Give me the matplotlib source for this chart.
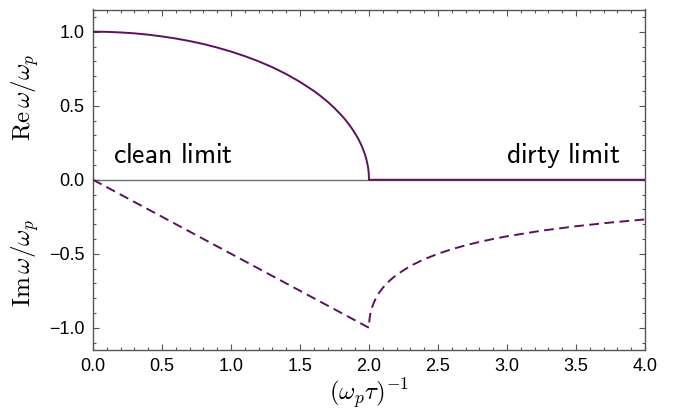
import numpy as np
import matplotlib.pyplot as plt
from matplotlib.ticker import MultipleLocator
import matplotlib.transforms as mtransforms

# values
x_re = [0.0, 0.1, 0.2, 0.3, 0.4, 0.5, 0.6, 0.7, 0.8, 0.9, 1.0, 1.1, 1.2,
        1.3, 1.4, 1.5, 1.6, 1.65, 1.7, 1.75, 1.8, 1.825, 1.85, 1.875, 1.9,
        1.92, 1.94, 1.955, 1.97, 1.98, 1.99, 1.995, 1.998, 2.0, 4.0]
re_w = [1.0, 0.999, 0.995, 0.989, 0.980, 0.968, 0.954, 0.937, 0.917, 0.893,
        0.866, 0.835, 0.800, 0.760, 0.714, 0.661, 0.600, 0.565, 0.527, 0.484,
        0.436, 0.409, 0.380, 0.348, 0.312, 0.280, 0.243, 0.211, 0.173, 0.141,
        0.100, 0.071, 0.045, 0.0, 0.0]

x_im = [0.0, 2.0, 2.001, 2.005, 2.01, 2.02, 2.035, 2.05, 2.075, 2.1, 2.15,
        2.2, 2.3, 2.4, 2.5, 2.6, 2.7, 2.8, 2.9, 3.0, 3.25, 3.5, 3.75, 4.0]
im_w = [0.0, -1.0, -0.969, -0.932, -0.905, -0.868, -0.830, -0.800, -0.761,
        -0.730, -0.681, -0.642, -0.582, -0.537, -0.500, -0.469, -0.443,
        -0.420, -0.400, -0.382, -0.344, -0.314, -0.289, -0.268]

xticks = [0.0, 0.5, 1.0, 1.5, 2.0, 2.5, 3.0, 3.5, 4.0]
yticks = [-1.0, -0.5, 0.0, 0.5, 1.0]

purple = '#5c1060'
spine_col = '#555555'

plt.rcParams['font.family'] = ['Liberation Sans', 'DejaVu Sans']
plt.rcParams['mathtext.fontset'] = 'cm'

fig = plt.figure(figsize=(6.76, 4.17), dpi=100)
ax = fig.add_axes([93/676, 1 - 350/417, (645-93)/676, (350-9.5)/417])

# zero axis line
ax.axhline(0, color='#707070', lw=1.0, zorder=1)

ax.plot(x_re, re_w, color=purple, lw=1.4, zorder=3)
ax.plot(x_im, im_w, color=purple, lw=1.4, dashes=(5, 2.8), zorder=3)

ax.set_xlim(0, 4)
ax.set_ylim(-1.15, 1.15)
ax.set_xticks(xticks)
ax.set_yticks(yticks)
ax.xaxis.set_minor_locator(MultipleLocator(0.1))
ax.yaxis.set_minor_locator(MultipleLocator(0.1))
ax.set_xticklabels(['%.1f' % v for v in xticks])
ax.set_yticklabels([('%.1f' % v).replace('-', '\u2212') for v in yticks])
ax.tick_params(which='both', direction='in', top=True, right=True,
               color=spine_col, labelsize=13, width=0.8)
ax.tick_params(which='major', length=4.5, pad=6)
ax.tick_params(which='minor', length=2.5)
for s in ax.spines.values():
    s.set_color(spine_col)
    s.set_linewidth(1.0)

ax.set_xlabel(r'$(\omega_p\tau)^{-1}$', fontsize=18, labelpad=1)

trans = mtransforms.blended_transform_factory(ax.transAxes, ax.transData)
ax.text(-0.123, 0.56, r'$\mathrm{Re}\,\omega/\omega_p$', transform=trans,
        rotation=90, ha='center', va='center', fontsize=18)
ax.text(-0.123, -0.56, r'$\mathrm{Im}\,\omega/\omega_p$', transform=trans,
        rotation=90, ha='center', va='center', fontsize=18)

ax.text(0.145, 0.115, r'$\mathsf{clean\ limit}$', fontsize=20, ha='left', va='baseline')
ax.text(3.82, 0.115, r'$\mathsf{dirty\ limit}$', fontsize=20, ha='right', va='baseline')

fig.savefig('out.png', dpi=100)
